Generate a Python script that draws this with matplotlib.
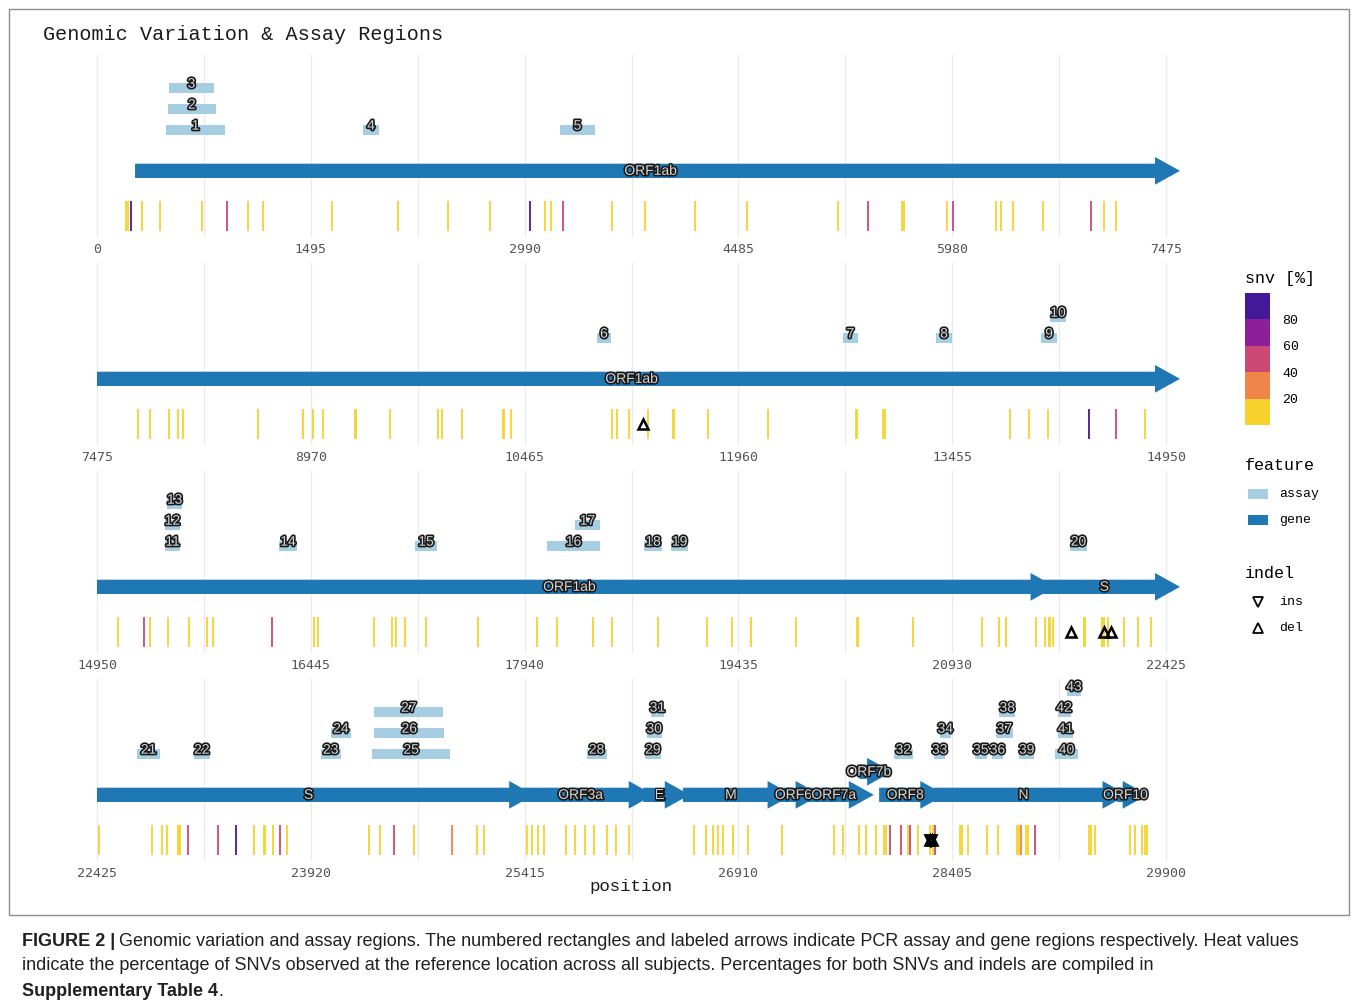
import numpy as np
import matplotlib
matplotlib.use("Agg")
import matplotlib.pyplot as plt
import matplotlib.patheffects as pe
import matplotlib.colorbar as mcolorbar
from matplotlib.colors import ListedColormap, BoundaryNorm
from matplotlib.patches import Polygon, Rectangle

############### data ################
gene_names = ["ORF1ab", "S", "ORF3a", "E", "M", "ORF6", "ORF7a", "ORF7b", "ORF8", "N", "ORF10"]
gene_start = [266, 21563, 25393, 26245, 26523, 27202, 27394, 27756, 27894, 28274, 29558]
gene_end = [21555, 25384, 26220, 26472, 27191, 27387, 27759, 27887, 28259, 29533, 29674]
gene_raised = [0, 0, 0, 0, 0, 0, 0, 1, 0, 0, 0]

assay_id = list(range(1, 44))
assay_start = [482, 496, 503, 1860, 3237, 10971, 12691, 13342, 14076, 14139,
               15425, 15425, 15440, 16223, 17174, 18097, 18292, 18775, 18964, 21754,
               22705, 23103, 23991, 24061, 24350, 24364, 24364, 25849, 26257, 26269,
               26297, 27999, 28280, 28320, 28564, 28681, 28709, 28734, 28874, 29126,
               29147, 29143, 29210]
assay_end = [895, 832, 818, 1972, 3482, 11069, 12796, 13454, 14188, 14251,
             15530, 15530, 15545, 16348, 17327, 18467, 18467, 18901, 19083, 21873,
             22866, 23215, 24129, 24201, 24895, 24854, 24847, 25989, 26367, 26374,
             26390, 28129, 28355, 28394, 28646, 28762, 28832, 28846, 28977, 29283,
             29247, 29233, 29304]
assay_level = [1, 2, 3, 1, 1, 1, 1, 1, 1, 2,
               1, 2, 3, 1, 1, 1, 2, 1, 1, 1,
               1, 1, 1, 2, 1, 2, 3, 1, 1, 2,
               3, 1, 1, 2, 1, 1, 2, 3, 1, 1,
               2, 3, 4]

snv_pos = [202, 215, 240, 314, 442, 731, 908, 1055, 1160, 1642, 2106, 2453, 2747, 3031,
           3134, 3174, 3261, 3598, 3831, 4182, 4544, 5183, 5388, 5626, 5644, 5941, 5985,
           6285, 6319, 6402, 6614, 6953, 7041, 7126,
           7762, 7847, 7981, 8044, 8079, 8600, 8915, 8985, 9052, 9281, 9289, 9521, 9860,
           9885, 10027, 10314, 10322, 10372, 11078, 11108, 11197, 11331, 11502, 11510,
           11748, 12164, 12783, 12791, 12972, 12987, 13859, 13991, 14122, 14409, 14603, 14802,
           15095, 15277, 15322, 15449, 15596, 15718, 15761, 16173, 16464, 16494, 16884,
           17011, 17038, 17101, 17253, 17612, 18024, 18164, 18421, 18551, 18874, 19218,
           19389, 19523, 19839, 20263, 20271, 20659, 21135, 21254, 21306, 21518, 21578,
           21604, 21616, 21634, 21849, 21857, 21976, 21989, 22017, 22131, 22227, 22323,
           22440, 22809, 22879, 22914, 22989, 22997, 23006, 23061, 23268, 23398, 23523,
           23593, 23601, 23658, 23705, 23755, 24329, 24404, 24503, 24641, 24910, 25082,
           25132, 25432, 25467, 25509, 25554, 25703, 25770, 25838, 25900, 25993, 26055,
           26148, 26602, 26680, 26734, 26765, 26802, 26874, 26975, 27213, 27577, 27639,
           27753, 27802, 27872, 27926, 27942, 27973, 28050, 28097, 28112, 28167, 28252,
           28270, 28283, 28459, 28475, 28514, 28651, 28726, 28858, 28873, 28884, 28920,
           28938, 28982, 29365, 29378, 29401, 29647, 29683, 29735, 29753, 29769]
snv_pct = [8, 8, 90, 8, 8, 8, 50, 8, 8, 8, 8, 8, 8, 90,
           8, 8, 50, 8, 8, 8, 8, 8, 50, 8, 8, 8, 50,
           8, 8, 8, 8, 50, 8, 8,
           8, 8, 8, 8, 8, 8, 8, 8, 8, 8, 8, 8, 8,
           8, 8, 8, 8, 8, 8, 8, 8, 8, 8, 8,
           8, 8, 8, 8, 8, 8, 8, 8, 8, 90, 50, 8,
           8, 50, 8, 8, 8, 8, 8, 50, 8, 8, 8,
           8, 8, 8, 8, 8, 8, 8, 8, 8, 8, 8,
           8, 8, 8, 8, 8, 8, 8, 8, 8, 8, 8,
           8, 8, 8, 8, 8, 8, 8, 8, 8, 8, 8,
           8, 8, 8, 8, 8, 8, 8, 50, 50, 90, 8,
           8, 8, 8, 55, 8, 8, 8, 50, 8, 35, 8,
           8, 8, 8, 8, 8, 8, 8, 8, 8, 8, 8,
           8, 8, 8, 8, 8, 8, 8, 8, 8, 8, 8,
           8, 8, 8, 8, 8, 50, 50, 8, 50, 8, 8,
           8, 55, 8, 8, 8, 8, 8, 8, 8, 35, 8,
           8, 50, 8, 8, 8, 8, 8, 8, 8, 8]

del_pos = [11295, 21760, 21991, 22037, 28250, 28262]
ins_pos = [28252, 28260]

snv_bins = [0, 20, 40, 60, 80, 100]
snv_colors = ["#f7d22c", "#f0844a", "#cb4873", "#8d1f9b", "#43199a"]

row_len = 7475
n_rows = 4
tick_step = 1495

assay_color = "#a6cee3"
gene_color = "#1f78b4"

############### layout (pixels) ################
W, H = 1358, 1007
px_left, px_right = 90, 1190
px_x0, px_x1 = 97, 1166
row_top, row_bot, row_gap = 55, 237, 208
yunit = 21.0

cmap = ListedColormap(snv_colors)
norm = BoundaryNorm(snv_bins, cmap.N)

halo = [pe.Stroke(linewidth=2.4, foreground="#1a1a1a"), pe.Normal()]
label_kw = dict(family="Liberation Sans", fontsize=10, color="#d6d6d6",
                ha="center", va="center", path_effects=halo, zorder=6)


def gene_arrow(ax, x0, x1, y):
    hb = max(x0, x1 - 77)
    body, head = 0.34, 0.66
    pts = [(x0, y - body), (hb, y - body), (hb, y - head), (x1 + 98, y),
           (hb, y + head), (hb, y + body), (x0, y + body)]
    ax.add_patch(Polygon(pts, closed=True, facecolor=gene_color, edgecolor="none", zorder=3))


fig = plt.figure(figsize=(W / 100, H / 100), dpi=100)
over = fig.add_axes([0, 0, 1, 1])
over.set_xlim(0, W)
over.set_ylim(H, 0)
over.axis("off")

scale = row_len / (px_x1 - px_x0)
snv_pos_a = np.array(snv_pos)
snv_pct_a = np.array(snv_pct)
del_a = np.array(del_pos)
ins_a = np.array(ins_pos)

for r in range(n_rows):
    s0 = r * row_len
    s1 = s0 + row_len
    top = row_top + r * row_gap
    bot = row_bot + r * row_gap
    ax = fig.add_axes([px_left / W, 1 - bot / H, (px_right - px_left) / W, (bot - top) / H])
    ax.set_xlim(s0 + (px_left - px_x0) * scale, s0 + (px_right - px_x0) * scale)
    ax.set_ylim(0, (bot - top) / yunit)
    ax.patch.set_alpha(0)
    for sp in ax.spines.values():
        sp.set_visible(False)
    ax.set_yticks([])
    ticks = s0 + np.arange(0, row_len + 1, tick_step)
    ax.set_xticks(ticks)
    ax.set_xticklabels([str(t) for t in ticks], family="DejaVu Sans Mono",
                       fontsize=9.5, color="#555555")
    ax.set_xticks(s0 + tick_step / 2 + np.arange(0, row_len, tick_step), minor=True)
    ax.tick_params(which="both", length=0, pad=4)
    ax.grid(True, which="both", axis="x", color="#ebebeb", lw=1.0, zorder=0)
    ax.set_axisbelow(True)

    # snv lines
    m = (snv_pos_a >= s0) & (snv_pos_a < s1)
    ax.vlines(snv_pos_a[m], 0.3, 1.7, colors=cmap(norm(snv_pct_a[m])), lw=1.3, zorder=2)

    # indels
    m = (del_a >= s0) & (del_a < s1)
    ax.plot(del_a[m], np.full(m.sum(), 1.0), ls="none", marker="^", ms=6.5,
            mfc="none", mec="black", mew=1.8, zorder=5)
    m = (ins_a >= s0) & (ins_a < s1)
    ax.plot(ins_a[m], np.full(m.sum(), 1.0), ls="none", marker="v", ms=6.5,
            mfc="none", mec="black", mew=1.8, zorder=5)

    # genes
    for name, g0, g1, up in zip(gene_names, gene_start, gene_end, gene_raised):
        a, b = max(g0, s0), min(g1, s1)
        if a >= b:
            continue
        y = 4.25 if up else 3.15
        gene_arrow(ax, a, b, y)
        ax.text((a + b) / 2, y, name, **label_kw)

    # assays
    for i, a, b, lv in zip(assay_id, assay_start, assay_end, assay_level):
        if not (s0 <= a < s1):
            continue
        yc = 5.1 + (lv - 1)
        ax.add_patch(Rectangle((a, yc - 0.22), b - a, 0.44, facecolor=assay_color,
                               edgecolor="none", zorder=4))
        ax.text((a + b) / 2, yc + 0.2, str(i), **label_kw)

# title and x label
mono = "Liberation Mono"
over.text(43, 35, "Genomic Variation & Assay Regions", family=mono, fontsize=14.5,
          ha="left", va="center", color="#1a1a1a")
over.text(631, 887, "position", family=mono, fontsize=12.5, ha="center", va="center",
          color="#1a1a1a")
over.add_patch(Rectangle((9, 9), 1340, 906, facecolor="none", edgecolor="#8c8c8c", lw=1.0))

# legend: snv colorbar
over.text(1245, 279, "snv [%]", family=mono, fontsize=12, ha="left", va="center")
cax = fig.add_axes([1245 / W, 1 - 425 / H, 25 / W, 132 / H])
cb = mcolorbar.ColorbarBase(cax, cmap=cmap, norm=norm, boundaries=snv_bins,
                            ticks=snv_bins[1:-1], spacing="uniform")
cb.outline.set_visible(False)
cax.minorticks_off()
cax.tick_params(which="both", length=0, pad=9)
for t in cax.get_yticklabels():
    t.set_family(mono)
    t.set_fontsize(9.5)

# legend: feature
over.text(1245, 466, "feature", family=mono, fontsize=12, ha="left", va="center")
over.add_patch(Rectangle((1248, 489), 20, 10, facecolor=assay_color, edgecolor="none"))
over.add_patch(Rectangle((1248, 515), 20, 10, facecolor=gene_color, edgecolor="none"))
over.text(1279, 494, "assay", family=mono, fontsize=9.5, ha="left", va="center")
over.text(1279, 520, "gene", family=mono, fontsize=9.5, ha="left", va="center")

# legend: indel
over.text(1245, 573, "indel", family=mono, fontsize=12, ha="left", va="center")
over.plot([1258], [602], marker="v", ms=6.5, mfc="none", mec="black", mew=1.3)
over.plot([1258], [628], marker="^", ms=6.5, mfc="none", mec="black", mew=1.3)
over.text(1279, 602, "ins", family=mono, fontsize=9.5, ha="left", va="center")
over.text(1279, 628, "del", family=mono, fontsize=9.5, ha="left", va="center")

# caption
cap_font = ["Liberation Sans Narrow", "Liberation Sans"]
cap_kw = dict(family=cap_font, fontsize=13, color="#231f20", ha="left", va="center")
fig.canvas.draw()
rend = fig.canvas.get_renderer()


def put(x, y, txt, bold=False):
    t = over.text(x, y, txt, weight="bold" if bold else "normal", **cap_kw)
    bb = t.get_window_extent(rend)
    return bb.x1


x = put(22, 941, "FIGURE 2 |", bold=True)
put(x + 4, 941, "Genomic variation and assay regions. The numbered rectangles and labeled arrows "
    "indicate PCR assay and gene regions respectively. Heat values")
put(22, 966, "indicate the percentage of SNVs observed at the reference location across all "
    "subjects. Percentages for both SNVs and indels are compiled in")
x = put(22, 991, "Supplementary Table 4", bold=True)
put(x, 991, ".")

fig.savefig("out.png", dpi=100)
